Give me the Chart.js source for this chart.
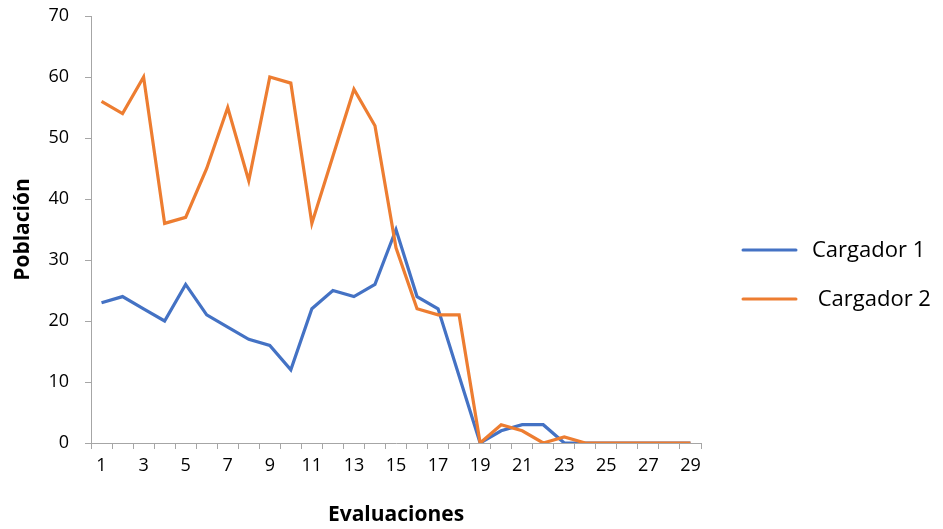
<!DOCTYPE html>
<html>
<head>
<meta charset="utf-8">
<script src="https://cdn.jsdelivr.net/npm/chart.js@4/dist/chart.umd.min.js"></script>
<style>
  html, body { margin: 0; padding: 0; background: #fff; }
  #wrap { width: 943px; height: 529px; }
</style>
</head>
<body>
<div id="wrap"><canvas id="grafico"></canvas></div>
<script>
var evaluaciones = [];
for (var n = 1; n <= 29; n++) { evaluaciones.push(String(n)); }

var cargador1 = [23, 24, 22, 20, 26, 21, 19, 17, 16, 12, 22, 25, 24, 26, 35, 24, 22, 11, 0, 2, 3, 3, 0, 0, 0, 0, 0, 0, 0];
var cargador2 = [56, 54, 60, 36, 37, 45, 55, 43, 60, 59, 36, 47, 58, 52, 32, 22, 21, 21, 0, 3, 2, 0, 1, 0, 0, 0, 0, 0, 0];
var nombres = ['Cargador 1', ' Cargador 2'];
var colores = ['#4472C4', '#ED7D31'];

var fuente = '"Open Sans", Lato, sans-serif';

// leyenda a la derecha, dibujada a mano
var leyenda = {
  id: 'leyenda',
  afterDraw: function (chart) {
    var ctx = chart.ctx;
    var ys = [250, 299];
    ctx.save();
    chart.data.datasets.forEach(function (ds, i) {
      ctx.strokeStyle = ds.borderColor;
      ctx.lineWidth = 3;
      ctx.lineCap = 'round';
      ctx.beginPath();
      ctx.moveTo(743, ys[i]);
      ctx.lineTo(796, ys[i]);
      ctx.stroke();
      ctx.fillStyle = '#000';
      ctx.font = '22px ' + fuente;
      ctx.textBaseline = 'middle';
      ctx.fillText(ds.label, 812, ys[i] + 1);
    });
    ctx.restore();
  }
};

var ctx = document.getElementById('grafico').getContext('2d');
new Chart(ctx, {
  type: 'line',
  data: {
    labels: evaluaciones,
    datasets: [
      // naranja por encima del azul, como en el original
      { label: nombres[0], data: cargador1, order: 1, borderColor: colores[0], backgroundColor: colores[0], borderWidth: 3.2, pointRadius: 0, tension: 0 },
      { label: nombres[1], data: cargador2, order: 0, borderColor: colores[1], backgroundColor: colores[1], borderWidth: 3.2, pointRadius: 0, tension: 0 }
    ]
  },
  options: {
    responsive: true,
    maintainAspectRatio: false,
    animation: false,
    layout: { padding: { left: 0, right: 242, top: 16, bottom: 0 } },
    plugins: {
      legend: { display: false },
      tooltip: { enabled: false }
    },
    scales: {
      x: {
        offset: true,
        grid: { offset: true, drawOnChartArea: false, drawTicks: true, tickLength: 6, color: '#a6a6a6', lineWidth: 1 },
        border: { color: '#a6a6a6', width: 1 },
        ticks: {
          autoSkip: false,
          maxRotation: 0,
          padding: 6,
          color: '#000',
          font: { family: fuente, size: 18 },
          callback: function (v, i) { return i % 2 === 0 ? this.getLabelForValue(v) : ''; }
        },
        title: { display: true, text: 'Evaluaciones', color: '#000', font: { family: fuente, size: 21, weight: 'bold' }, padding: { top: 8, bottom: 1 } },
        afterFit: function (s) { s.height = 86; }
      },
      y: {
        min: 0,
        max: 70,
        grid: { drawOnChartArea: false, drawTicks: true, tickLength: 6, color: '#a6a6a6' },
        border: { color: '#a6a6a6', width: 1 },
        ticks: { stepSize: 10, padding: 16, color: '#000', font: { family: fuente, size: 18 } },
        title: { display: true, text: 'Población', color: '#000', font: { family: fuente, size: 21, weight: 'bold' }, padding: { top: 10, bottom: 0 } },
        afterFit: function (s) { s.width = 91; s.paddingTop = 0; s.paddingBottom = 0; }
      }
    }
  },
  plugins: [leyenda]
});
</script>
</body>
</html>
